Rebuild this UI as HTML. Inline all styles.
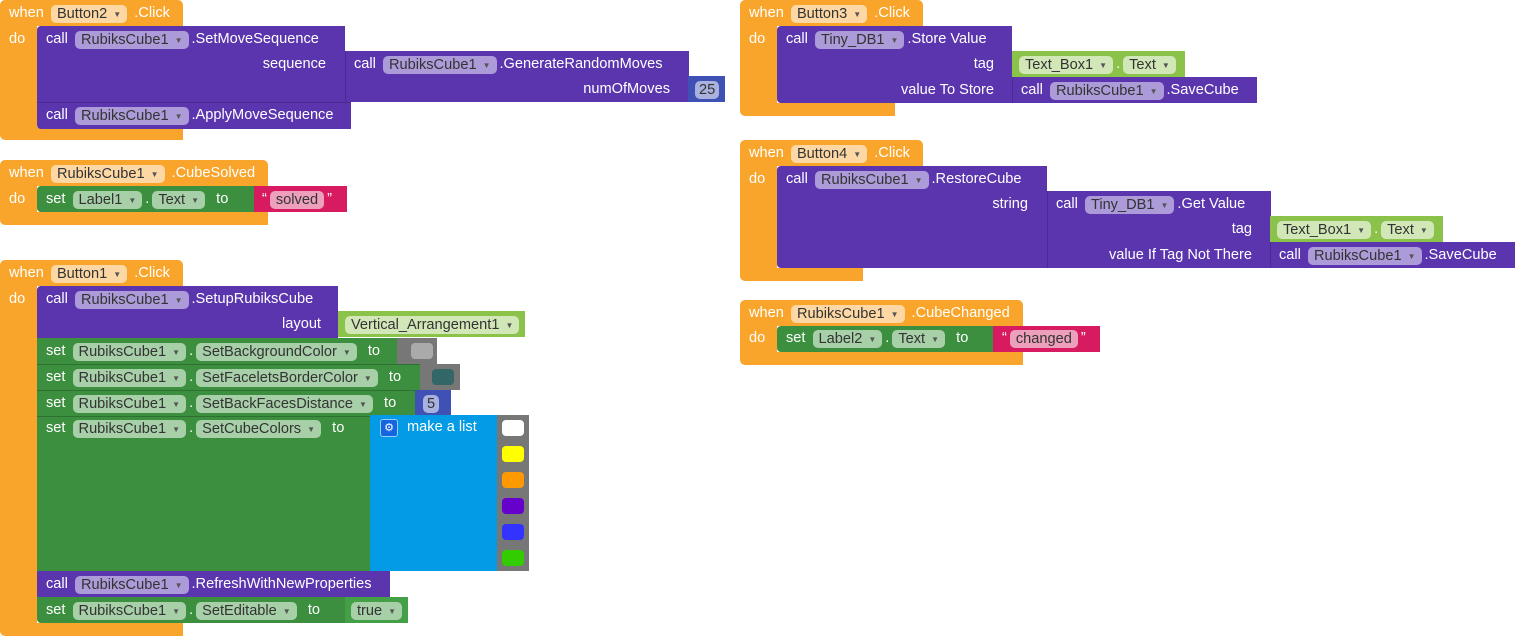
<!DOCTYPE html>
<html><head><meta charset="utf-8"><style>
body{margin:0;width:1515px;height:636px;background:#fff;position:relative;overflow:hidden;font-family:"Liberation Sans",sans-serif;}
.b{position:absolute;}
.o{background:#f9a52b;}
.p{background:#5b35ae;}
.g{background:#3c8f3e;}
.lg{background:#8bc34a;}
.pk{background:#d81b60;}
.nb{background:#3f51b5;}
.ml{background:#039be5;}
.gr{background:#777;}
.r{position:absolute;height:26px;line-height:27px;color:#fff;font-size:14.6px;white-space:nowrap;}
.ra{text-align:right;}
.f{display:inline-block;height:18px;line-height:19px;padding:0 6px;border-radius:5px;color:#333;margin:0 3px;vertical-align:middle;position:relative;top:1px;}
.fo{background:#fdd8a4;}
.fp{background:#ac9bd8;}
.fg{background:#a7cfa8;}
.fl{background:#d1e7b7;}
.fk{background:#eca0bb;}
.fn{background:#a9b2df;}
.a{font-size:8px;color:#555;margin-left:6px;position:relative;top:-1px;}
.sw{position:absolute;width:22px;height:16px;border-radius:4px;}
</style></head><body>

<!-- Event Button2 -->
<div class="b o" style="left:0;top:0;width:183px;height:26px;border-radius:5px 5px 0 0"></div>
<div class="b o" style="left:0;top:26px;width:37px;height:102px"></div>
<div class="b o" style="left:0;top:127px;width:183px;height:13px;border-radius:0 0 0 5px"></div>
<div class="r" style="left:9px;top:0">when <span class="f fo">Button2<span class="a">▼</span></span> .Click</div>
<div class="r" style="left:9px;top:26px">do</div>
<div class="b p" style="left:37px;top:26px;width:308px;height:76px;border-radius:4px 0 0 0"></div>
<div class="b p" style="left:345px;top:51px;width:343px;height:51px;border-left:1px solid #4a2a90"></div>
<div class="b nb" style="left:688px;top:76px;width:37px;height:26px"></div>
<div class="r" style="left:46px;top:26px">call <span class="f fp">RubiksCube1<span class="a">▼</span></span>.SetMoveSequence</div>
<div class="r ra" style="left:200px;top:51px;width:126px">sequence</div>
<div class="r" style="left:354px;top:51px">call <span class="f fp">RubiksCube1<span class="a">▼</span></span>.GenerateRandomMoves</div>
<div class="r ra" style="left:500px;top:76px;width:170px">numOfMoves</div>
<div class="r" style="left:692px;top:76px"><span class="f fn" style="padding:0 4px">25</span></div>
<div class="b p" style="left:37px;top:102px;width:314px;height:26px;border-top:1px solid #4a2a90;border-radius:0 0 0 4px"></div>
<div class="r" style="left:46px;top:102px">call <span class="f fp">RubiksCube1<span class="a">▼</span></span>.ApplyMoveSequence</div>

<!-- Event CubeSolved -->
<div class="b o" style="left:0;top:160px;width:268px;height:26px;border-radius:5px 5px 0 0"></div>
<div class="b o" style="left:0;top:186px;width:37px;height:27px"></div>
<div class="b o" style="left:0;top:212px;width:268px;height:13px;border-radius:0 0 0 5px"></div>
<div class="r" style="left:9px;top:160px">when <span class="f fo">RubiksCube1<span class="a">▼</span></span> .CubeSolved</div>
<div class="r" style="left:9px;top:186px">do</div>
<div class="b g" style="left:37px;top:186px;width:217px;height:26px;border-radius:4px 0 0 4px"></div>
<div class="b pk" style="left:254px;top:186px;width:93px;height:26px"></div>
<div class="r" style="left:46px;top:186px">set <span class="f fg">Label1<span class="a">▼</span></span>.<span class="f fg">Text<span class="a">▼</span></span> &nbsp;to</div>
<div class="r" style="left:262px;top:186px">“<span class="f fk">solved</span>”</div>

<!-- Event Button1 -->
<div class="b o" style="left:0;top:260px;width:183px;height:26px;border-radius:5px 5px 0 0"></div>
<div class="b o" style="left:0;top:286px;width:37px;height:340px"></div>
<div class="b o" style="left:0;top:623px;width:183px;height:13px;border-radius:0 0 0 5px"></div>
<div class="r" style="left:9px;top:260px">when <span class="f fo">Button1<span class="a">▼</span></span> .Click</div>
<div class="r" style="left:9px;top:286px">do</div>
<div class="b p" style="left:37px;top:286px;width:301px;height:52px;border-radius:4px 0 0 0"></div>
<div class="b lg" style="left:338px;top:311px;width:187px;height:26px"></div>
<div class="r" style="left:46px;top:286px">call <span class="f fp">RubiksCube1<span class="a">▼</span></span>.SetupRubiksCube</div>
<div class="r ra" style="left:200px;top:311px;width:121px">layout</div>
<div class="r" style="left:342px;top:311px"><span class="f fl">Vertical_Arrangement1<span class="a">▼</span></span></div>

<div class="b g" style="left:37px;top:338px;width:360px;height:26px"></div>
<div class="b gr" style="left:397px;top:338px;width:40px;height:26px"></div><div class="sw" style="left:411px;top:343px;background:#aaa"></div>
<div class="r" style="left:46px;top:338px">set <span class="f fg">RubiksCube1<span class="a">▼</span></span>.<span class="f fg">SetBackgroundColor<span class="a">▼</span></span> &nbsp;to</div>

<div class="b g" style="left:37px;top:364px;width:383px;height:26px;border-top:1px solid #2e7030"></div>
<div class="b gr" style="left:420px;top:364px;width:40px;height:26px"></div><div class="sw" style="left:432px;top:369px;background:#336666"></div>
<div class="r" style="left:46px;top:364px">set <span class="f fg">RubiksCube1<span class="a">▼</span></span>.<span class="f fg">SetFaceletsBorderColor<span class="a">▼</span></span> &nbsp;to</div>

<div class="b g" style="left:37px;top:390px;width:378px;height:26px;border-top:1px solid #2e7030"></div>
<div class="b nb" style="left:415px;top:390px;width:36px;height:26px"></div>
<div class="r" style="left:46px;top:390px">set <span class="f fg">RubiksCube1<span class="a">▼</span></span>.<span class="f fg">SetBackFacesDistance<span class="a">▼</span></span> &nbsp;to</div>
<div class="r" style="left:423px;top:390px"><span class="f fn" style="padding:0 4px;margin:0">5</span></div>

<div class="b g" style="left:37px;top:416px;width:333px;height:155px;border-top:1px solid #2e7030"></div>
<div class="b ml" style="left:370px;top:415px;width:127px;height:156px"></div>
<div class="r" style="left:46px;top:415px">set <span class="f fg">RubiksCube1<span class="a">▼</span></span>.<span class="f fg">SetCubeColors<span class="a">▼</span></span> &nbsp;to</div>
<div class="b" style="left:380px;top:419px;width:16px;height:16px;background:#1565e0;border:1px solid #9cf;border-radius:3px;color:#fff;font-size:11px;line-height:16px;text-align:center">⚙</div>
<div class="r" style="left:407px;top:414px">make a list</div>
<div class="b gr" style="left:497px;top:415px;width:32px;height:156px"></div>
<div class="sw" style="left:502px;top:420px;background:#fff"></div>
<div class="sw" style="left:502px;top:446px;background:#ff0"></div>
<div class="sw" style="left:502px;top:472px;background:#f90"></div>
<div class="sw" style="left:502px;top:498px;background:#60c"></div>
<div class="sw" style="left:502px;top:524px;background:#33f"></div>
<div class="sw" style="left:502px;top:550px;background:#3c0"></div>

<div class="b p" style="left:37px;top:571px;width:353px;height:26px"></div>
<div class="r" style="left:46px;top:571px">call <span class="f fp">RubiksCube1<span class="a">▼</span></span>.RefreshWithNewProperties</div>
<div class="b g" style="left:37px;top:597px;width:308px;height:26px;border-radius:0 0 0 4px"></div>
<div class="b" style="left:345px;top:597px;width:63px;height:26px;background:#43a047"></div>
<div class="r" style="left:46px;top:597px">set <span class="f fg">RubiksCube1<span class="a">▼</span></span>.<span class="f fg">SetEditable<span class="a">▼</span></span> &nbsp;to</div>
<div class="r" style="left:348px;top:597px"><span class="f fg">true<span class="a">▼</span></span></div>

<!-- Event Button3 -->
<div class="b o" style="left:740px;top:0;width:183px;height:26px;border-radius:5px 5px 0 0"></div>
<div class="b o" style="left:740px;top:26px;width:37px;height:78px"></div>
<div class="b o" style="left:740px;top:103px;width:155px;height:13px;border-radius:0 0 0 5px"></div>
<div class="r" style="left:749px;top:0">when <span class="f fo">Button3<span class="a">▼</span></span> .Click</div>
<div class="r" style="left:749px;top:26px">do</div>
<div class="b p" style="left:777px;top:26px;width:235px;height:77px;border-radius:4px 0 0 4px"></div>
<div class="b lg" style="left:1012px;top:51px;width:173px;height:26px"></div>
<div class="b p" style="left:1012px;top:77px;width:244px;height:26px;border-left:1px solid #4a2a90"></div>
<div class="r" style="left:786px;top:26px">call <span class="f fp">Tiny_DB1<span class="a">▼</span></span>.Store Value</div>
<div class="r ra" style="left:880px;top:51px;width:114px">tag</div>
<div class="r ra" style="left:850px;top:77px;width:144px">value To Store</div>
<div class="r" style="left:1016px;top:51px"><span class="f fl">Text_Box1<span class="a">▼</span></span>.<span class="f fl">Text<span class="a">▼</span></span></div>
<div class="r" style="left:1021px;top:77px">call <span class="f fp">RubiksCube1<span class="a">▼</span></span>.SaveCube</div>

<!-- Event Button4 -->
<div class="b o" style="left:740px;top:140px;width:183px;height:26px;border-radius:5px 5px 0 0"></div>
<div class="b o" style="left:740px;top:166px;width:37px;height:103px"></div>
<div class="b o" style="left:740px;top:268px;width:123px;height:13px;border-radius:0 0 0 5px"></div>
<div class="r" style="left:749px;top:140px">when <span class="f fo">Button4<span class="a">▼</span></span> .Click</div>
<div class="r" style="left:749px;top:166px">do</div>
<div class="b p" style="left:777px;top:166px;width:270px;height:102px;border-radius:4px 0 0 4px"></div>
<div class="b p" style="left:1047px;top:191px;width:223px;height:77px;border-left:1px solid #4a2a90"></div>
<div class="b lg" style="left:1270px;top:216px;width:173px;height:26px"></div>
<div class="b p" style="left:1270px;top:242px;width:245px;height:26px;border-left:1px solid #4a2a90"></div>
<div class="r" style="left:786px;top:166px">call <span class="f fp">RubiksCube1<span class="a">▼</span></span>.RestoreCube</div>
<div class="r ra" style="left:900px;top:191px;width:128px">string</div>
<div class="r" style="left:1056px;top:191px">call <span class="f fp">Tiny_DB1<span class="a">▼</span></span>.Get Value</div>
<div class="r ra" style="left:1150px;top:216px;width:102px">tag</div>
<div class="r ra" style="left:1060px;top:242px;width:192px">value If Tag Not There</div>
<div class="r" style="left:1274px;top:216px"><span class="f fl">Text_Box1<span class="a">▼</span></span>.<span class="f fl">Text<span class="a">▼</span></span></div>
<div class="r" style="left:1279px;top:242px">call <span class="f fp">RubiksCube1<span class="a">▼</span></span>.SaveCube</div>

<!-- Event CubeChanged -->
<div class="b o" style="left:740px;top:300px;width:283px;height:26px;border-radius:5px 5px 0 0"></div>
<div class="b o" style="left:740px;top:326px;width:37px;height:27px"></div>
<div class="b o" style="left:740px;top:352px;width:283px;height:13px;border-radius:0 0 0 5px"></div>
<div class="r" style="left:749px;top:300px">when <span class="f fo">RubiksCube1<span class="a">▼</span></span> .CubeChanged</div>
<div class="r" style="left:749px;top:325px">do</div>
<div class="b g" style="left:777px;top:326px;width:216px;height:26px;border-radius:4px 0 0 4px"></div>
<div class="b pk" style="left:993px;top:326px;width:107px;height:26px"></div>
<div class="r" style="left:786px;top:325px">set <span class="f fg">Label2<span class="a">▼</span></span>.<span class="f fg">Text<span class="a">▼</span></span> &nbsp;to</div>
<div class="r" style="left:1002px;top:325px">“<span class="f fk">changed</span>”</div>

</body></html>
